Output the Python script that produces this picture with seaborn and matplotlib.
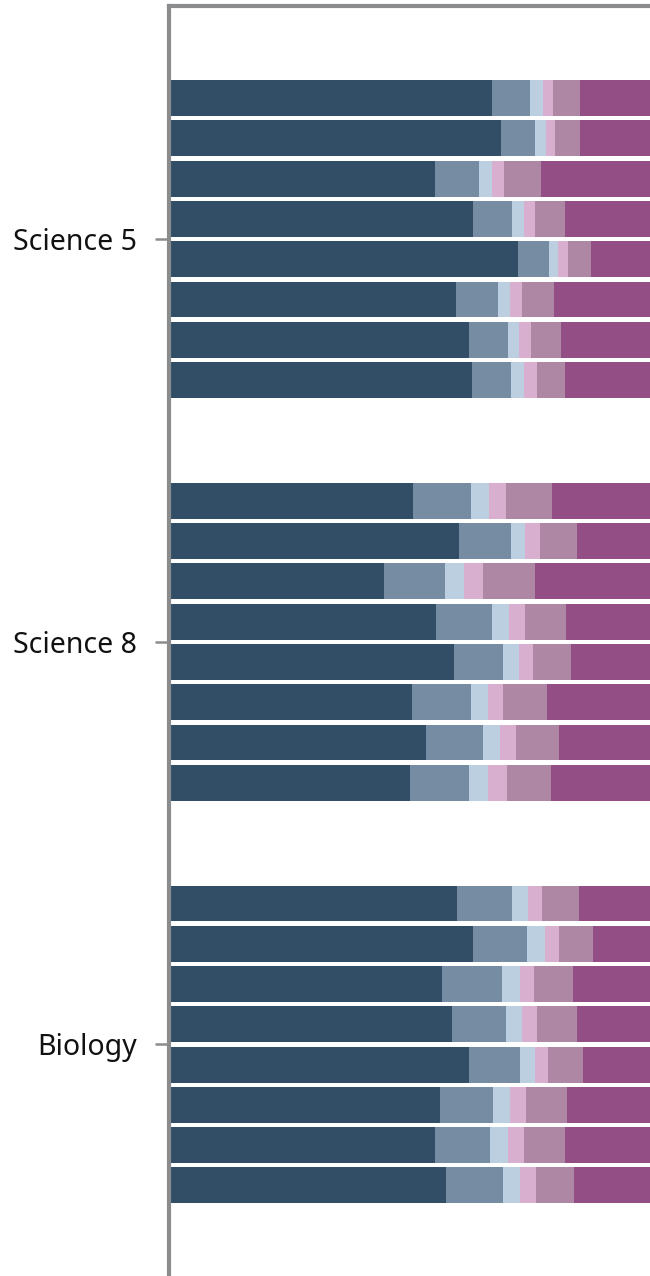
import matplotlib
matplotlib.use("Agg")
import matplotlib.pyplot as plt
import seaborn as sns
import pandas as pd

# kategori dan nilai tiap segmen (persen), 8 baris per kategori
categories = ["Science 5", "Science 8", "Biology"]
segments = ["s1", "s2", "s3", "s4", "s5", "s6"]
colors = ["#324e66", "#768ca2", "#bccfe1", "#d9afd0", "#ad87a3", "#934f85"]

science5 = [
    [67.1, 7.9, 2.7, 2.1, 5.6, 14.6],
    [69.0, 7.0, 2.3, 1.9, 5.2, 14.6],
    [55.4, 9.0, 2.7, 2.5, 7.7, 22.7],
    [63.3, 8.0, 2.5, 2.2, 6.3, 17.7],
    [72.5, 6.5, 1.8, 2.1, 4.8, 12.3],
    [59.6, 8.7, 2.5, 2.5, 6.7, 20.0],
    [62.3, 8.1, 2.3, 2.5, 6.3, 18.5],
    [62.9, 8.1, 2.8, 2.7, 5.8, 17.7],
]
science8 = [
    [50.8, 11.9, 3.8, 3.5, 9.6, 20.4],
    [60.2, 10.8, 3.0, 3.1, 7.7, 15.2],
    [44.6, 12.7, 4.0, 3.9, 10.8, 24.0],
    [55.6, 11.5, 3.5, 3.4, 8.5, 17.5],
    [59.2, 10.2, 3.3, 2.9, 7.9, 16.5],
    [50.6, 12.1, 3.6, 3.1, 9.1, 21.5],
    [53.5, 11.7, 3.6, 3.3, 8.9, 19.0],
    [50.0, 12.3, 4.0, 3.9, 9.2, 20.6],
]
biology = [
    [59.8, 11.5, 3.3, 2.9, 7.7, 14.8],
    [63.3, 11.1, 3.7, 2.9, 7.1, 11.9],
    [56.7, 12.5, 3.7, 2.9, 8.2, 16.0],
    [58.8, 11.2, 3.3, 3.2, 8.3, 15.2],
    [62.3, 10.6, 3.1, 2.8, 7.2, 14.0],
    [56.3, 11.0, 3.5, 3.4, 8.5, 17.3],
    [55.2, 11.5, 3.7, 3.4, 8.5, 17.7],
    [57.5, 11.9, 3.5, 3.4, 7.9, 15.8],
]

# susun data panjang: posisi baris dan nilai kumulatif
rows = []
for g, grup in enumerate([science5, science8, biology]):
    for i, vals in enumerate(grup):
        pos = g * 10 + i
        cum = 0
        for s, v in zip(segments, vals):
            cum += v
            rows.append({"pos": pos, "segmen": s, "kum": cum})
df = pd.DataFrame(rows)

sns.set_style("white")
plt.rcParams["font.family"] = ["Noto Sans", "DejaVu Sans"]

fig = plt.figure(figsize=(6.5, 12.76), dpi=100)
ax = fig.add_axes([169 / 650, 0, 1 - 169 / 650, 1 - 5.5 / 1276])

# gambar dari segmen terakhir (kumulatif terbesar) ke depan
for s, c in reversed(list(zip(segments, colors))):
    sub = df[df["segmen"] == s]
    sns.barplot(data=sub, x="kum", y="pos", orient="h", native_scale=True,
                color=c, saturation=1, width=0.89, linewidth=0, ax=ax)

ax.set_xlim(0, 100)
ax.set_ylim(29.25, -2.3)
ax.set_xticks([])
ax.set_yticks([3.5, 13.5, 23.5])
ax.set_yticklabels(categories, fontsize=20.5, color="#111111")
ax.tick_params(axis="y", length=10, width=1.8, color="#8a8c8e", pad=13, left=True)
ax.set_xlabel("")
ax.set_ylabel("")

for side in ["right", "bottom"]:
    ax.spines[side].set_visible(False)
for side in ["left", "top"]:
    ax.spines[side].set_color("#8a8c8e")
    ax.spines[side].set_linewidth(3)

fig.savefig("out.png", dpi=100)
